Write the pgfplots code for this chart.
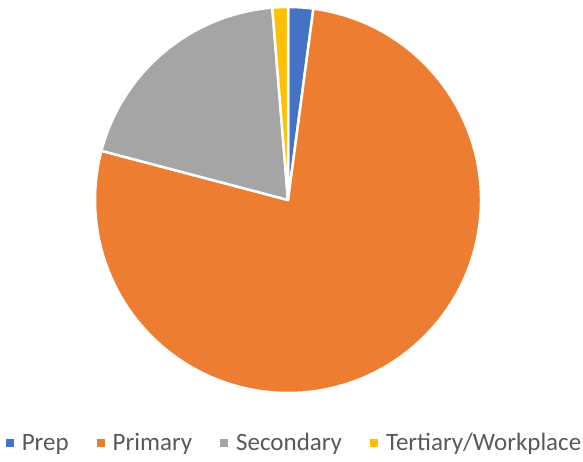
\documentclass[border=0pt]{standalone}
\usepackage{pgfplots}
\usepackage{pgfplotstable}
\pgfplotsset{compat=1.18}
\usepackage{fontspec}
\setmainfont{Carlito}
\definecolor{c1}{HTML}{4472C4}
\definecolor{c2}{HTML}{ED7D31}
\definecolor{c3}{HTML}{A5A5A5}
\definecolor{c4}{HTML}{FFC000}
\definecolor{txt}{HTML}{595959}
\pgfplotstableread{
label value col
Prep 2.1 c1
Primary 77.0 c2
Secondary 19.6 c3
Tertiary/Workplace 1.3 c4
}\piedata
\begin{document}
\begin{tikzpicture}
\path[use as bounding box] (0,0) rectangle (583pt,462pt);
\begin{axis}[x=1pt, y=1pt, xmin=0, xmax=583, ymin=0, ymax=462,
  scale only axis, hide axis, clip=false,
  legend style={draw=none, fill=none, at={(axis cs:293.5,19)}, anchor=center,
    legend columns=-1, font=\fontsize{25}{29}\selectfont, text=txt,
    nodes={inner sep=0pt},
    /tikz/every odd column/.append style={column sep=8pt},
    /tikz/every even column/.append style={column sep=28pt}},
  legend image code/.code={\fill[#1] (0pt,-4pt) rectangle (8pt,4pt);}]
\def\cum{90}
\pgfplotsforeachungrouped \i in {0,...,3}{%
  \pgfplotstablegetelem{\i}{value}\of\piedata \let\v\pgfplotsretval
  \pgfplotstablegetelem{\i}{col}\of\piedata \let\c\pgfplotsretval
  \pgfmathsetmacro\e{\cum-3.6*\v}%
  \edef\temp{\noexpand\filldraw[fill=\c, draw=white, line width=2.5pt, line join=round] (axis cs:288,262) -- ++(\cum:193pt) arc[start angle=\cum, end angle=\e, radius=193pt] -- cycle;}%
  \temp
  \global\let\cum\e
}
\addlegendimage{fill=c1, draw=none}
\addlegendentry{Prep}
\addlegendimage{fill=c2, draw=none}
\addlegendentry{Primary}
\addlegendimage{fill=c3, draw=none}
\addlegendentry{Secondary}
\addlegendimage{fill=c4, draw=none}
\addlegendentry{Tertiary/Workplace}
\end{axis}
\end{tikzpicture}
\end{document}
